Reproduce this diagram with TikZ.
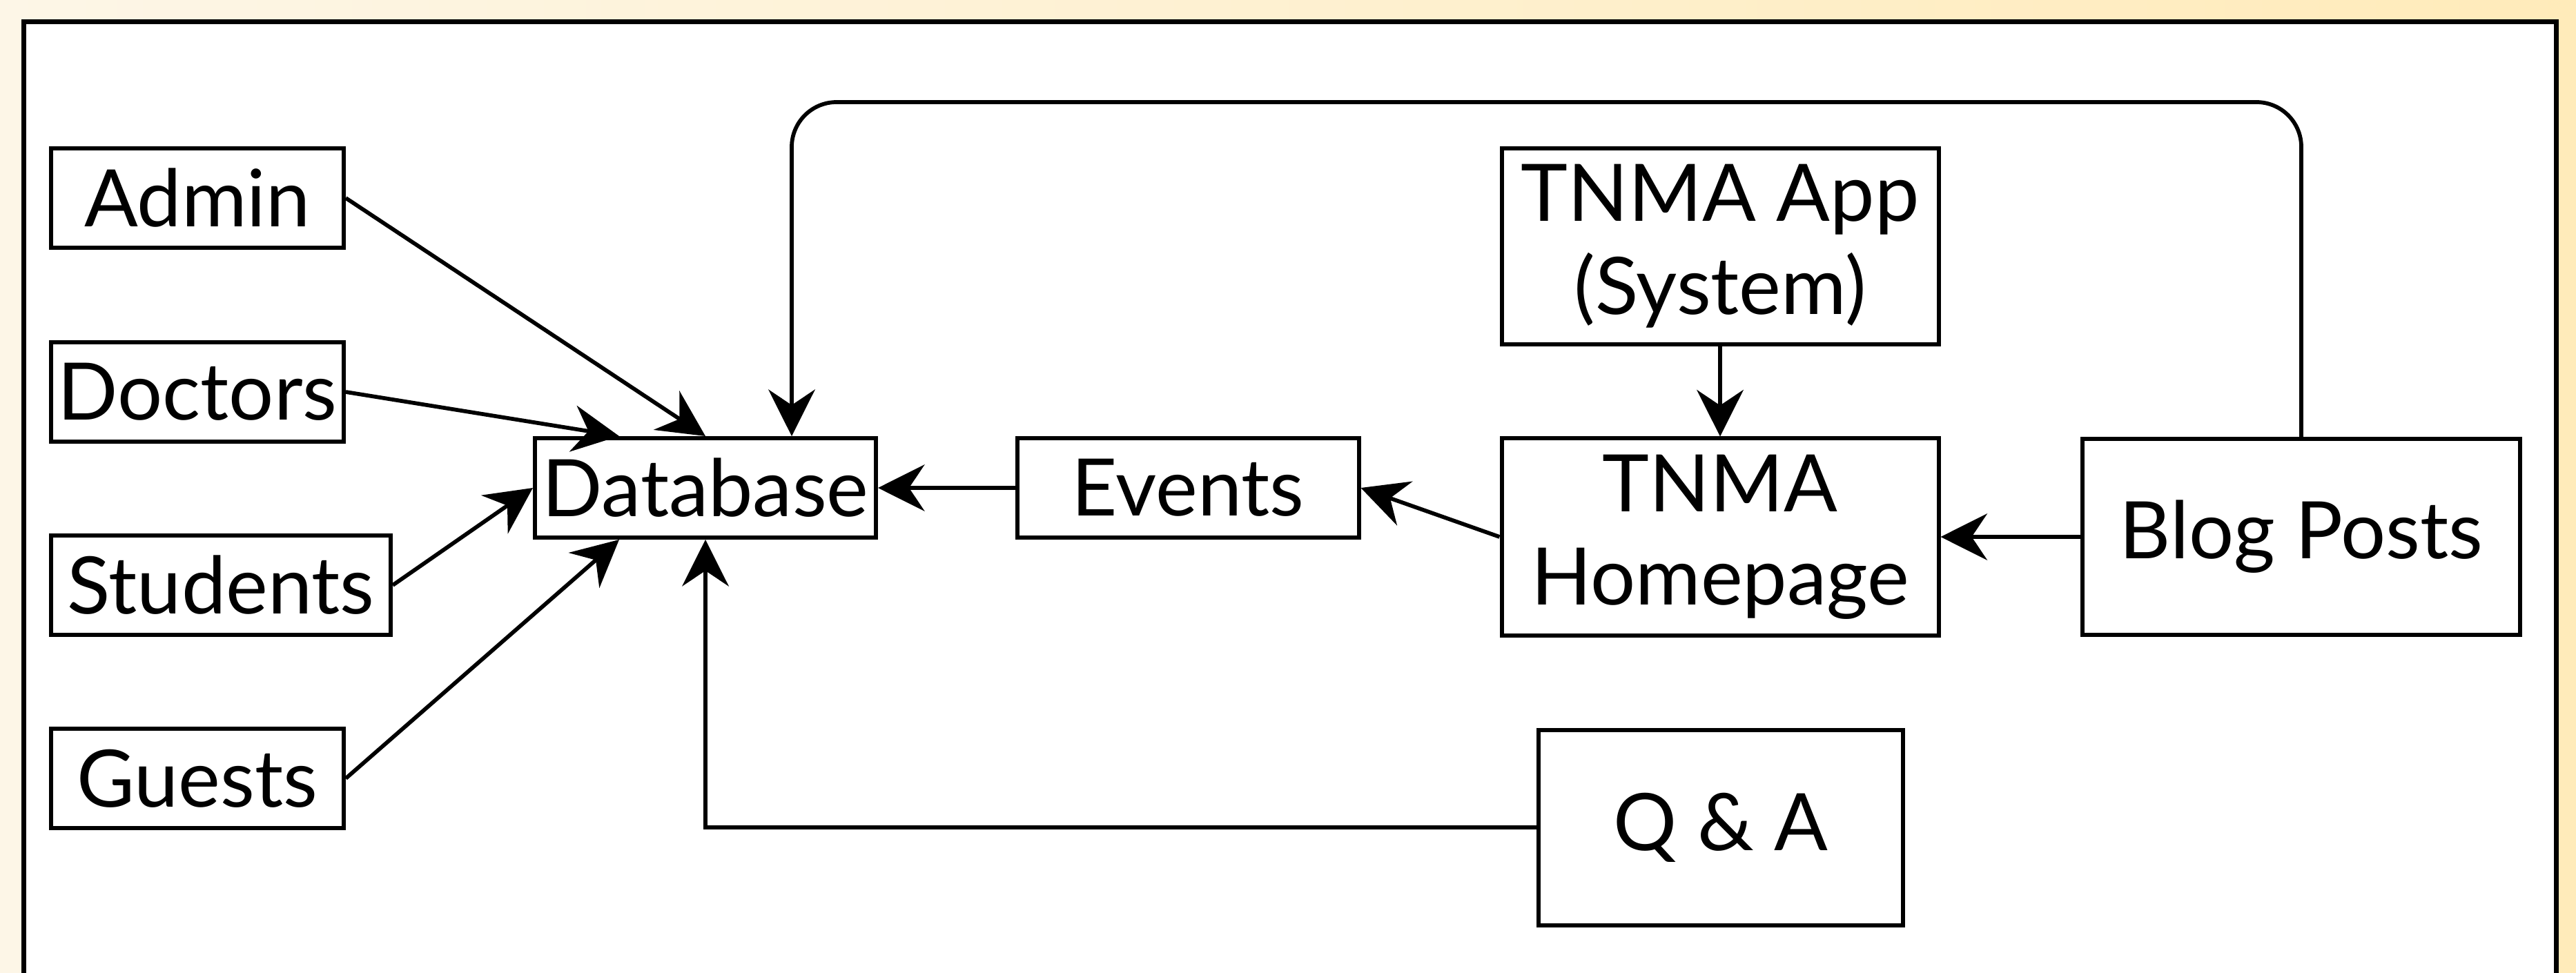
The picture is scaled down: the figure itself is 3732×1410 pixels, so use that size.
\documentclass[tikz,border=0pt]{standalone}
\usepackage{fontspec}
\setmainfont{Lato}
\usetikzlibrary{arrows.meta,calc}
\definecolor{bgleft}{HTML}{FDF6E7}
\definecolor{bgright}{HTML}{FFEBBA}
\begin{document}
\begin{tikzpicture}[x=0.2pt,y=-0.2pt,
  box/.style={draw=black,line width=1.2pt,fill=white,inner sep=0pt,align=center,
    font=\fontsize{23}{27}\selectfont},
  arr/.style={line width=1.15pt,-{Stealth[length=13.5pt,width=13.5pt,inset=4.5pt]}}]
\useasboundingbox (0,0) rectangle (3732,1410);
\shade[left color=bgleft,right color=bgright] (0,0) rectangle (3732,1410);
\fill[white] (34,32) rectangle (3703,1410);
\draw[line width=1.4pt] (34,1410) -- (34,32) -- (3703,32) -- (3703,1410);

\node[box,minimum width=84.8pt,minimum height=28.8pt] (admin) at (286,287) {Admin};
\node[box,minimum width=84.8pt,minimum height=28.8pt] (doc) at (286,568) {Doctors};
\node[box,minimum width=98.4pt,minimum height=28.8pt] (stu) at (320,848) {Students};
\node[box,minimum width=84.8pt,minimum height=28.8pt] (guest) at (286,1128) {Guests};
\node[box,minimum width=98.8pt,minimum height=28.8pt] (db) at (1022,707) {Database};
\node[box,minimum width=99pt,minimum height=28.8pt] (ev) at (1721,707) {Events};
\node[box,minimum width=126.6pt,minimum height=56.8pt] (app) at (2492,357) {TNMA App\\(System)};
\node[box,minimum width=126.6pt,minimum height=57pt] (hp) at (2492,778) {TNMA\\Homepage};
\node[box,minimum width=126.8pt,minimum height=56.6pt] (blog) at (3334,778) {Blog Posts};
\node[box,minimum width=105.6pt,minimum height=56.6pt] (qa) at (2493,1199) {Q \& A};

\coordinate (dbtq1) at ($(db.north west)!0.25!(db.north east)$);
\coordinate (dbtq3) at ($(db.north west)!0.75!(db.north east)$);
\coordinate (dbbq1) at ($(db.south west)!0.25!(db.south east)$);
\coordinate (looptop) at (0,148);

\draw[arr] (admin.east) -- (db.north);
\draw[arr] (doc.east) -- (dbtq1);
\draw[arr] (stu.east) -- (db.west);
\draw[arr] (guest.east) -- (dbbq1);
\draw[arr] (qa.west) -| (db.south);
\draw[arr] (ev.west) -- (db.east);
\draw[arr] (hp.west) -- (ev.east);
\draw[arr] (app.south) -- (hp.north);
\draw[arr] (blog.west) -- (hp.east);
\draw[arr,rounded corners=13pt] (blog.north) -- (blog.north |- looptop) -- (dbtq3 |- looptop) -- (dbtq3);
\end{tikzpicture}
\end{document}
